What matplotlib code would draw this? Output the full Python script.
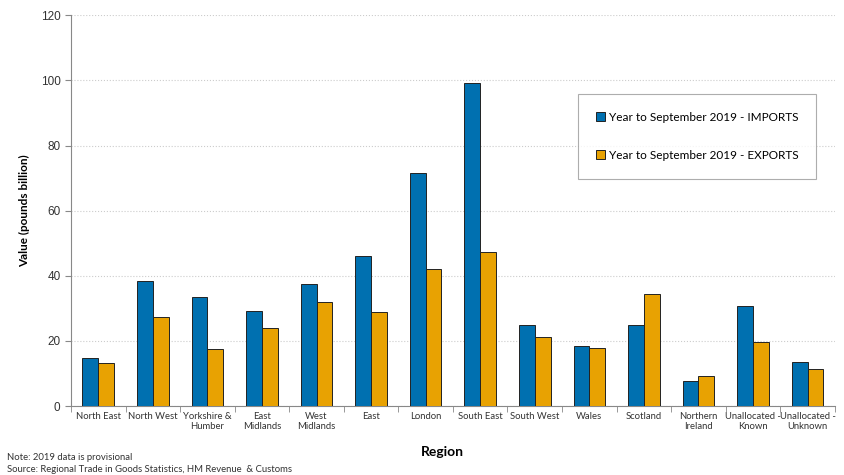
import numpy as np
import matplotlib.pyplot as plt

# Data
regions = ['North East', 'North West', 'Yorkshire &\nHumber', 'East\nMidlands', 'West\nMidlands',
           'East', 'London', 'South East', 'South West', 'Wales', 'Scotland',
           'Northern\nIreland', 'Unallocated -\nKnown', 'Unallocated -\nUnknown']
imports = [14.7, 38.4, 33.5, 29.1, 37.4, 46.0, 71.5, 99.3, 24.9, 18.4, 24.9, 7.7, 30.7, 13.4]
exports = [13.2, 27.3, 17.5, 23.9, 31.9, 28.8, 42.0, 47.2, 21.2, 17.7, 34.4, 9.2, 19.6, 11.3]

blue = '#0070b0'
orange = '#e8a202'
calibri = ['Lato', 'DejaVu Sans']

fig = plt.figure(figsize=(8.45, 4.75), dpi=100)
ax = fig.add_axes([0.084, 0.145, 0.904, 0.823])

x = np.arange(len(regions))
w = 0.29
ax.bar(x - w / 2, imports, w, color=blue, edgecolor='#222222', linewidth=0.7,
       label='Year to September 2019 - IMPORTS', zorder=3)
ax.bar(x + w / 2, exports, w, color=orange, edgecolor='#222222', linewidth=0.7,
       label='Year to September 2019 - EXPORTS', zorder=3)

ax.set_xlim(-0.5, len(regions) - 0.5)
ax.set_ylim(0, 120)
ax.set_yticks(range(0, 121, 20))
ax.tick_params(axis='y', labelsize=8.5, colors='#333333', length=4, color='#888888')
for t in ax.get_yticklabels():
    t.set_family('Liberation Sans')

ax.set_xticks(x)
ax.set_xticklabels(regions, fontsize=6.8, family=calibri, color='#333333')
ax.tick_params(axis='x', length=0, pad=4)
ax.set_xticks(np.arange(-0.5, len(regions), 1), minor=True)
ax.tick_params(axis='x', which='minor', length=4, color='#888888')

ax.grid(axis='y', color='#cccccc', linestyle=':', linewidth=0.8, zorder=0)
for s in ['top', 'right']:
    ax.spines[s].set_visible(False)
for s in ['left', 'bottom']:
    ax.spines[s].set_color('#888888')

ax.set_ylabel('Value (pounds billion)', fontsize=8.5, fontweight='bold', family=calibri, labelpad=8)
fig.text(0.524, 0.04, 'Region', fontsize=10, fontweight='bold', family=calibri, ha='center')

leg = ax.legend(loc='upper left', bbox_to_anchor=(0.664, 0.798), frameon=True, fancybox=False,
                edgecolor='#999999', prop={'family': calibri, 'size': 8.5},
                handlelength=0.8, handleheight=0.8, handletextpad=0.3,
                labelspacing=2.3, borderpad=1.5, borderaxespad=0)
leg.get_frame().set_linewidth(0.8)

fig.text(0.008, 0.032, 'Note: 2019 data is provisional', fontsize=6.8, family=calibri, color='#333333')
fig.text(0.008, 0.006, 'Source: Regional Trade in Goods Statistics, HM Revenue  & Customs',
         fontsize=6.8, family=calibri, color='#333333')

fig.savefig('out.png', dpi=100)
